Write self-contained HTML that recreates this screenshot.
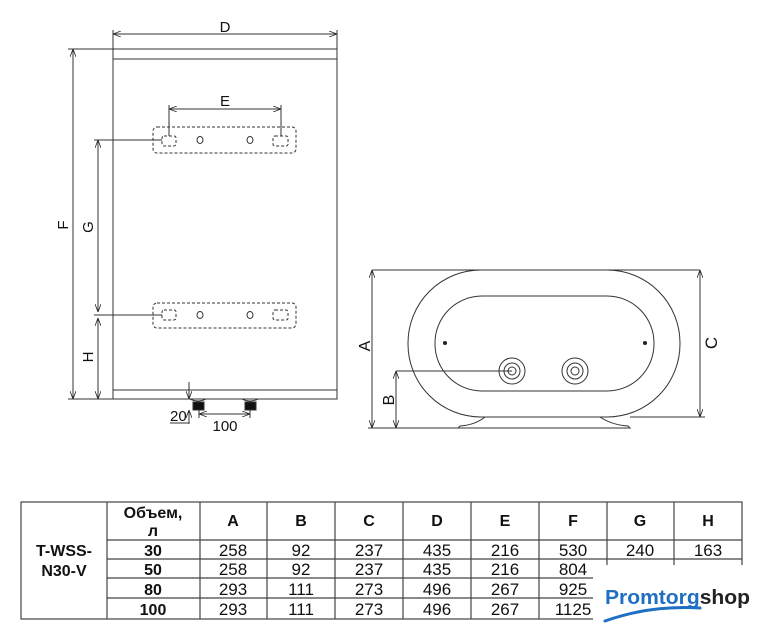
<!DOCTYPE html>
<html><head><meta charset="utf-8"><style>
html,body{margin:0;padding:0;background:#fff;}
svg{display:block;}
.t{font-family:"Liberation Sans",Arial,sans-serif;fill:#111;}
</style></head><body>
<svg width="762" height="640" viewBox="0 0 762 640" xmlns="http://www.w3.org/2000/svg">
<defs>
<marker id="ar" markerWidth="8" markerHeight="6" refX="8" refY="3" orient="auto-start-reverse" markerUnits="userSpaceOnUse"><path d="M0,0 L8,3 L0,6" fill="none" stroke="#222" stroke-width="0.8"/></marker>
</defs>
<g stroke="#333" stroke-width="1" fill="none">
<rect x="113" y="49" width="224" height="350" fill="#fff"/>
<rect x="113" y="49" width="224" height="10"/>
<rect x="113" y="390" width="224" height="9"/>
<line x1="113" y1="34" x2="337" y2="34" marker-start="url(#ar)" marker-end="url(#ar)"/>
<line x1="113" y1="30" x2="113" y2="49"/><line x1="337" y1="30" x2="337" y2="49"/>
<line x1="73" y1="49" x2="73" y2="399" marker-start="url(#ar)" marker-end="url(#ar)"/>
<line x1="68" y1="49" x2="113" y2="49"/><line x1="68" y1="399" x2="113" y2="399"/>
<line x1="98" y1="140" x2="98" y2="312" marker-start="url(#ar)" marker-end="url(#ar)"/>
<line x1="98" y1="318" x2="98" y2="399" marker-start="url(#ar)" marker-end="url(#ar)"/>
<line x1="94" y1="140" x2="162" y2="140"/>
<line x1="94" y1="315" x2="162" y2="315"/>
<g stroke-dasharray="3,2">
<rect x="153" y="127" width="143" height="26" rx="4"/>
<rect x="162" y="136" width="14" height="10" rx="2"/>
<rect x="273" y="136" width="15" height="10" rx="2"/>
<rect x="153" y="303" width="143" height="25" rx="4"/>
<rect x="162" y="310" width="14" height="10" rx="2"/>
<rect x="273" y="310" width="15" height="10" rx="2"/>
</g>
<ellipse cx="200" cy="140" rx="3" ry="3.5"/><ellipse cx="250" cy="140" rx="3" ry="3.5"/>
<ellipse cx="200" cy="315" rx="3" ry="3.5"/><ellipse cx="250" cy="315" rx="3" ry="3.5"/>
<line x1="169" y1="109" x2="281" y2="109" marker-start="url(#ar)" marker-end="url(#ar)"/>
<line x1="169" y1="105" x2="169" y2="136"/><line x1="281" y1="105" x2="281" y2="136"/>
<path d="M190,399 Q198,403 206,399 M242,399 Q250,403 258,399"/>
<rect x="193" y="402" width="11" height="8" fill="#111"/>
<rect x="245" y="402" width="11" height="8" fill="#111"/>
<line x1="189" y1="382" x2="189" y2="399" marker-end="url(#ar)"/>
<line x1="189" y1="424" x2="189" y2="410" marker-end="url(#ar)"/>
<line x1="170" y1="423" x2="189" y2="423"/>
<line x1="199" y1="410" x2="199" y2="418"/><line x1="250" y1="410" x2="250" y2="418"/>
<line x1="199" y1="414" x2="250" y2="414" marker-start="url(#ar)" marker-end="url(#ar)"/>
<rect x="408" y="270" width="272" height="147" rx="73" ry="73"/>
<rect x="435" y="296" width="219" height="95" rx="47" ry="47"/>
<path d="M485,417 Q475,425 460,426 L458,428 L630,428 L628,426 Q612,425 600,417"/>
<line x1="372" y1="270" x2="700" y2="270"/>
<line x1="372" y1="270" x2="372" y2="428" marker-start="url(#ar)" marker-end="url(#ar)"/>
<line x1="368" y1="428" x2="460" y2="428"/>
<line x1="700" y1="270" x2="700" y2="417" marker-start="url(#ar)" marker-end="url(#ar)"/>
<line x1="630" y1="417" x2="705" y2="417"/>
<line x1="396" y1="371" x2="396" y2="428" marker-start="url(#ar)" marker-end="url(#ar)"/>
<line x1="396" y1="371" x2="512" y2="371"/>
<circle cx="512" cy="371" r="13"/><circle cx="512" cy="371" r="8"/><circle cx="512" cy="371" r="4"/>
<circle cx="575" cy="371" r="13"/><circle cx="575" cy="371" r="8"/><circle cx="575" cy="371" r="4"/>
</g>
<circle cx="445" cy="343" r="2" fill="#222"/><circle cx="645" cy="343" r="2" fill="#222"/>
<g class="t" font-size="15">
<text x="225" y="32" text-anchor="middle">D</text>
<text x="225" y="106" text-anchor="middle">E</text>
<text transform="translate(68,225) rotate(-90)" text-anchor="middle">F</text>
<text transform="translate(93,227) rotate(-90)" text-anchor="middle">G</text>
<text transform="translate(93,357) rotate(-90)" text-anchor="middle">H</text>
<text x="170" y="421">20</text>
<text x="225" y="431" text-anchor="middle">100</text>
<text transform="translate(370,346) rotate(-90)" text-anchor="middle" font-size="16">A</text>
<text transform="translate(394,400) rotate(-90)" text-anchor="middle" font-size="16">B</text>
<text transform="translate(717,343) rotate(-90)" text-anchor="middle" font-size="17">C</text>
</g>
<g stroke="#444" stroke-width="1.2" fill="none">
<rect x="21" y="502" width="721" height="117"/>
<line x1="107" y1="502" x2="107" y2="619"/>
<line x1="200" y1="502" x2="200" y2="619"/><line x1="267" y1="502" x2="267" y2="619"/>
<line x1="335" y1="502" x2="335" y2="619"/><line x1="403" y1="502" x2="403" y2="619"/>
<line x1="471" y1="502" x2="471" y2="619"/><line x1="539" y1="502" x2="539" y2="619"/>
<line x1="607" y1="502" x2="607" y2="619"/><line x1="674" y1="502" x2="674" y2="619"/>
<line x1="107" y1="540" x2="742" y2="540"/><line x1="107" y1="559" x2="742" y2="559"/>
<line x1="107" y1="578" x2="742" y2="578"/><line x1="107" y1="598" x2="742" y2="598"/>
</g>
<g class="t" font-size="16" text-anchor="middle">
<g font-weight="bold">
<text x="64" y="556">T-WSS-</text><text x="64" y="576">N30-V</text>
<text x="153" y="518">Объем,</text><text x="153" y="536">л</text>
<text x="233" y="526">A</text><text x="301" y="526">B</text><text x="369" y="526">C</text><text x="437" y="526">D</text><text x="505" y="526">E</text><text x="573" y="526">F</text><text x="640" y="526">G</text><text x="708" y="526">H</text>
<text x="153" y="556">30</text><text x="153" y="575">50</text><text x="153" y="595">80</text><text x="153" y="615">100</text>
</g>
<g font-size="17">
<text x="233" y="556">258</text><text x="301" y="556">92</text><text x="369" y="556">237</text><text x="437" y="556">435</text><text x="505" y="556">216</text><text x="573" y="556">530</text><text x="640" y="556">240</text><text x="708" y="556">163</text>
<text x="233" y="575">258</text><text x="301" y="575">92</text><text x="369" y="575">237</text><text x="437" y="575">435</text><text x="505" y="575">216</text><text x="573" y="575">804</text>
<text x="233" y="595">293</text><text x="301" y="595">111</text><text x="369" y="595">273</text><text x="437" y="595">496</text><text x="505" y="595">267</text><text x="573" y="595">925</text>
<text x="233" y="615">293</text><text x="301" y="615">111</text><text x="369" y="615">273</text><text x="437" y="615">496</text><text x="505" y="615">267</text><text x="573" y="615">1125</text>
</g>
</g>
<rect x="593" y="565" width="169" height="75" fill="#fff"/>
<text x="605" y="604" class="t" font-size="20" font-weight="bold" textLength="145" lengthAdjust="spacingAndGlyphs"><tspan fill="#1f6fc5">Promtorg</tspan><tspan fill="#222">shop</tspan></text>
<path d="M605,621 Q650,605 700,608" stroke="#1f6fc5" stroke-width="3" fill="none" stroke-linecap="round"/>
</svg>
</body></html>
